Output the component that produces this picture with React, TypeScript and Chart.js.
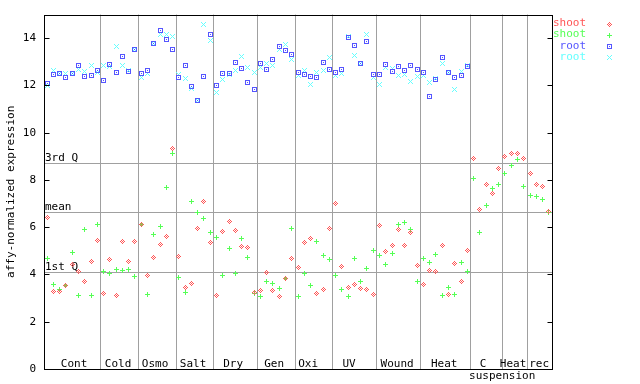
import React, { useEffect, useRef } from 'react';
import { Chart, registerables } from 'chart.js';

Chart.register(...registerables);

const FONT = 'DejaVu Sans Mono';

// shoot (red diamonds) — 81 samples
const shootRed = [
  6.4, 3.29, 3.29, 3.54, 4.43, 4.14, 3.72, 4.53, 5.45,
  3.21, 4.65, 3.12, 5.41, 4.56, 5.41,
  6.13, 3.97, 4.73, 5.28, 5.62, 9.34,
  4.77, 3.46, 3.63, 5.96, 7.1, 5.36,
  3.12, 5.83, 6.25, 5.87, 5.2, 5.15, 3.25,
  3.33, 4.1, 3.33, 3.08, 3.84, 4.69,
  4.31, 5.36, 5.53, 3.21, 3.38, 5.96,
  7.01, 4.35, 3.46, 3.59, 3.42, 3.38, 3.17,
  6.08, 4.99, 5.24, 5.91, 5.24, 5.79, 4.39,
  3.59, 4.18, 4.14, 5.24, 3.17, 4.48, 3.71, 5.03,
  8.92, 6.76, 7.79, 7.44, 8.49,
  9.0, 9.13, 9.13, 8.92,
  8.27, 7.8, 7.72, 6.67,
];

// shoot (green plus) — 81 samples
const shootGreen = [
  4.68, 3.59, 3.38, 3.54, 4.94, 3.13, 5.91, 3.13, 6.13,
  4.14, 4.05, 4.22, 4.18, 4.22, 3.93,
  6.13, 3.17, 5.7, 6.04, 7.69, 9.13,
  3.89, 3.25, 7.1, 6.63, 6.38, 5.78,
  5.58, 3.97, 5.11, 4.05, 5.53, 4.73, 3.21,
  3.08, 3.71, 3.63, 3.42, 3.84, 5.96,
  3.08, 4.05, 3.55, 5.41, 4.82, 4.65,
  3.97, 3.38, 3.08, 4.69, 3.71, 4.27, 5.03,
  4.82, 4.44, 4.9, 6.11, 6.21, 5.91, 3.71,
  4.69, 4.52, 4.86, 3.12, 3.46, 3.17, 4.52, 4.14,
  8.08, 5.79, 6.9, 7.66, 7.83,
  8.27, 8.62, 8.87, 7.72,
  7.35, 7.31, 7.18, 6.63,
];

// root (blue squares) — 68 samples
const rootBlue = [
  12.08, 12.46, 12.49, 12.34, 12.51, 12.85, 12.38, 12.42, 12.63,
  12.21, 12.89, 12.55, 13.21, 12.61, 13.51,
  12.51, 12.62, 13.77, 14.32, 13.96, 13.52,
  12.34, 12.85, 11.96, 11.38, 12.38, 14.15,
  12.0, 12.51, 12.51, 12.97, 12.72, 12.13, 11.83,
  12.93, 12.68, 13.1, 13.63, 13.48, 13.31,
  12.55, 12.46, 12.38, 12.34, 12.97, 12.68,
  12.56, 12.68, 14.01, 13.69, 12.93, 13.86, 12.46,
  12.46, 12.89, 12.59, 12.8, 12.63, 12.85, 12.68,
  12.55, 11.54, 12.27, 13.18, 12.56, 12.34, 12.42, 12.82,
];

// root (cyan crosses) — 68 samples
const rootCyan = [
  12.0, 12.65, 12.51, 12.51, 12.51, 12.69, 12.59, 12.85, 12.56,
  12.85, 12.79, 13.65, 12.85, 12.65, 13.51,
  12.34, 12.51, 13.77, 14.15, 14.15, 14.07,
  12.48, 12.3, 11.87, 11.38, 14.58, 13.9,
  11.7, 12.25, 12.46, 12.63, 13.21, 12.76, 12.56,
  12.76, 12.93, 12.85, 13.52, 13.73, 13.1,
  12.42, 12.65, 12.04, 12.55, 12.63, 13.18,
  12.42, 12.51, 14.06, 13.27, 12.93, 14.15, 12.34,
  12.04, 12.76, 12.72, 12.42, 12.46, 12.17, 12.38,
  12.42, 12.13, 12.3, 12.93, 12.56, 11.83, 12.59, 12.85,
];

// group separators (sample index boundaries) and labels
const groupBounds = [8.5, 14.5, 20.5, 26.5, 33.5, 39.5, 45.5, 52.5, 59.5, 67.5, 72.5, 76.5];
const groupLabels = ['Cont', 'Cold', 'Osmo', 'Salt', 'Dry', 'Gen', 'Oxi', 'UV', 'Wound', 'Heat', 'C', 'Heat', 'rec'];
const groupLabelAt = [4.29, 11.31, 17.21, 23.27, 29.65, 36.19, 41.61, 48.15, 55.81, 63.3, 69.52, 74.3, 78.45];
const subLabel = 'suspension';
const subLabelAt = 72.55;

const refLabels = ['3rd Q', 'mean', '1st Q'];
const refValues = [8.7, 6.63, 4.1];

const seriesNames = ['shoot', 'shoot', 'root', 'root'];
const seriesColors = ['#ff5555', '#55ff55', '#5555ff', '#66ffff'];

function makeMarker(color: string, kind: string): HTMLCanvasElement {
  const c = document.createElement('canvas');
  c.width = 5;
  c.height = 5;
  const g = c.getContext('2d')!;
  g.fillStyle = color;
  for (let dy = -2; dy <= 2; dy++) {
    for (let dx = -2; dx <= 2; dx++) {
      let on = false;
      if (kind === 'diamond') on = Math.abs(dx) + Math.abs(dy) <= 2 && (dx + dy) % 2 === 0;
      if (kind === 'plus') on = dx === 0 || dy === 0;
      if (kind === 'square') on = Math.abs(dx) === 2 || Math.abs(dy) === 2 || (dx === 0 && dy === 0);
      if (kind === 'cross') on = Math.abs(dx) === Math.abs(dy);
      if (on) g.fillRect(dx + 2, dy + 2, 1, 1);
    }
  }
  return c;
}

export default function App() {
  const ref = useRef<HTMLCanvasElement>(null);

  useEffect(() => {
    document.body.style.margin = '0';
    const canvas = ref.current!;
    const kinds = ['diamond', 'plus', 'square', 'cross'];
    const markers = kinds.map((k, i) => makeMarker(seriesColors[i], k));
    const series = [shootRed, shootGreen, rootBlue, rootCyan];

    const framePlugin = {
      id: 'frame',
      beforeDatasetsDraw(chart: any) {
        const { ctx, chartArea: a, scales } = chart;
        const x = scales.x;
        const y = scales.y;
        ctx.save();
        ctx.strokeStyle = '#a0a0a0';
        ctx.lineWidth = 1;
        groupBounds.forEach((b) => {
          const px = Math.round(x.getPixelForValue(b)) + 0.5;
          ctx.beginPath();
          ctx.moveTo(px, a.top);
          ctx.lineTo(px, a.bottom);
          ctx.stroke();
        });
        ctx.font = `11px "${FONT}"`;
        ctx.fillStyle = '#000';
        refValues.forEach((v, i) => {
          const py = Math.round(y.getPixelForValue(v)) + 0.5;
          ctx.beginPath();
          ctx.moveTo(a.left, py);
          ctx.lineTo(a.right, py);
          ctx.stroke();
          ctx.textAlign = 'left';
          ctx.textBaseline = 'middle';
          ctx.fillText(refLabels[i], a.left + 1, py - 5);
        });
        ctx.textAlign = 'center';
        ctx.textBaseline = 'middle';
        groupLabels.forEach((t, i) => {
          ctx.fillText(t, x.getPixelForValue(groupLabelAt[i]), a.bottom - 4.5);
        });
        ctx.fillText(subLabel, x.getPixelForValue(subLabelAt), a.bottom + 7.5);
        ctx.restore();
        ctx.imageSmoothingEnabled = false;
      },
      afterDatasetsDraw(chart: any) {
        const { ctx, chartArea: a, scales } = chart;
        const y = scales.y;
        ctx.save();
        ctx.strokeStyle = '#000';
        ctx.lineWidth = 1;
        const l = Math.round(a.left) + 0.5;
        const r = Math.round(a.right) + 0.5;
        const t = Math.round(a.top) + 0.5;
        const b = Math.round(a.bottom) + 0.5;
        ctx.strokeRect(l, t, r - l, b - t);
        y.ticks.forEach((tk: any) => {
          const py = Math.round(y.getPixelForValue(tk.value)) + 0.5;
          ctx.beginPath();
          ctx.moveTo(l, py);
          ctx.lineTo(l + 5, py);
          ctx.moveTo(r, py);
          ctx.lineTo(r - 5, py);
          ctx.stroke();
        });
        // legend
        ctx.font = `11px "${FONT}"`;
        ctx.textAlign = 'right';
        ctx.textBaseline = 'middle';
        const rows = [23.5, 34.5, 45.8, 56.8];
        ctx.imageSmoothingEnabled = false;
        seriesNames.forEach((n, i) => {
          ctx.fillStyle = seriesColors[i];
          ctx.fillText(n, 586, rows[i]);
          ctx.drawImage(markers[i], 607, Math.round(rows[i]) - 2);
        });
        ctx.restore();
      },
    };

    const chart = new Chart(canvas, {
      type: 'scatter',
      data: {
        datasets: series.map((arr, i) => ({
          label: seriesNames[i],
          data: arr.map((v, k) => ({ x: k, y: v })),
          pointStyle: markers[i] as any,
          pointRadius: 3,
          borderColor: seriesColors[i],
          backgroundColor: seriesColors[i],
        })),
      },
      options: {
        animation: false,
        responsive: false,
        devicePixelRatio: 1,
        layout: { padding: { top: 13, right: 88, bottom: 15, left: 0 } },
        plugins: { legend: { display: false }, tooltip: { enabled: false } },
        scales: {
          x: { type: 'linear', min: -0.5, max: 80.5, display: false },
          y: {
            type: 'linear',
            position: 'left',
            min: 0,
            max: 15,
            afterFit: (s: any) => {
              s.width = 44;
            },
            ticks: {
              stepSize: 2,
              includeBounds: false,
              color: '#000',
              padding: 8,
              font: { family: FONT, size: 11 },
            },
            grid: { display: false, drawTicks: false },
            border: { display: false },
            title: {
              display: true,
              text: 'affy-normalized expression',
              color: '#000',
              font: { family: FONT, size: 11 },
              padding: { top: 5, bottom: 0 },
            },
          },
        },
      } as any,
      plugins: [framePlugin],
    });
    return () => chart.destroy();
  }, []);

  return (
    <div style={{ width: 640, height: 384, background: '#fff' }}>
      <canvas ref={ref} width={640} height={384} style={{ display: 'block' }} />
    </div>
  );
}
